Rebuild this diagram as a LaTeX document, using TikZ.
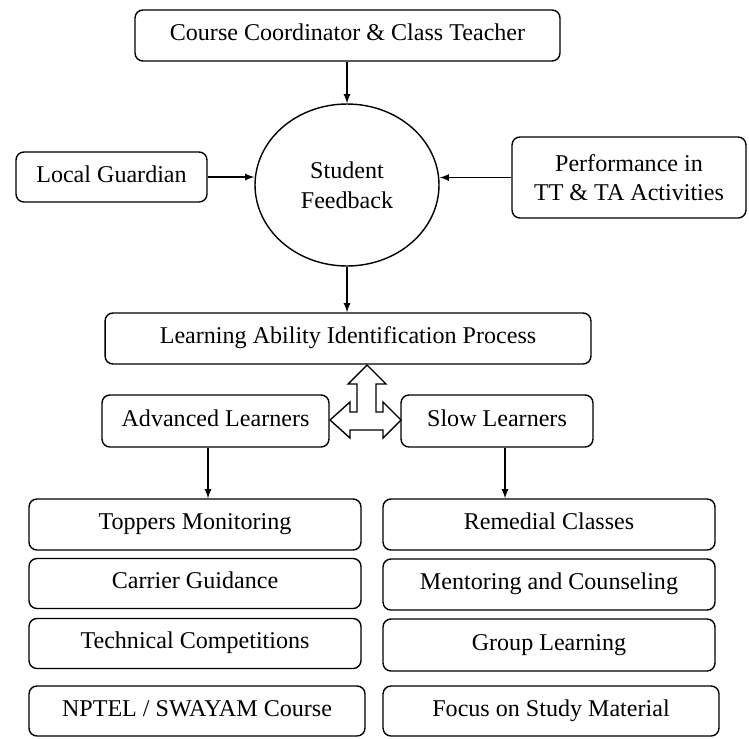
\documentclass[tikz,border=0pt]{standalone}
\usepackage{fontspec}
\setmainfont{Liberation Serif}
\usepackage{tikz}
\usetikzlibrary{shapes.geometric}

\begin{document}
\begin{tikzpicture}[x=0.02cm,y=-0.02cm,line width=0.8pt,
		box/.style={draw,rectangle,rounded corners=4.5pt,align=center,inner sep=0pt,font=\fontsize{13.7}{16.5}\selectfont},
		line/.style={box,text height=1.65ex,text depth=0.35ex},
		arr/.style={->,>=latex}]
		\useasboundingbox (0,0) rectangle (749,738);
		%\node[draw,options] (nodeName) at (x,y) {text};
		\node[line,minimum width=8.5cm,minimum height=1.02cm] (Coord) at (347.5,35.5) {Course Coordinator \& Class Teacher};
		\node[line,minimum width=3.82cm,minimum height=1cm] (Guardian) at (111.5,177) {Local Guardian};
		\node[draw,ellipse,minimum width=3.68cm,minimum height=3.24cm,align=center,inner sep=0pt,font=\fontsize{13.7}{17}\selectfont] (Feedback) at (347,185) {Student \\ Feedback};
		\node[box,minimum width=4.68cm,minimum height=1.62cm] (Perf) at (629,177.5) {Performance in \\ TT \& TA Activities};
		\node[line,minimum width=9.72cm,minimum height=1.02cm] (Learn) at (348,338.5) {Learning Ability Identification Process};
		\node[line,minimum width=4.54cm,minimum height=1.04cm] (Adv) at (215.5,421) {Advanced Learners};
		\node[line,minimum width=3.84cm,minimum height=1.04cm] (Slow) at (497,421) {Slow Learners};
		%advanced learners
		\node[line,minimum width=6.64cm,minimum height=1.02cm] (Toppers) at (195,524.5) {Toppers Monitoring};
		\node[line,minimum width=6.64cm,minimum height=1cm] (Carrier) at (195,583.5) {Carrier Guidance};
		\node[line,minimum width=6.64cm,minimum height=1cm] (Technical) at (195,643.5) {Technical Competitions};
		\node[line,minimum width=6.72cm,minimum height=1cm] (Nptel) at (197,711) {NPTEL / SWAYAM Course};
		%slow learners
		\node[line,minimum width=6.64cm,minimum height=1.02cm] (Remedial) at (549,524.5) {Remedial Classes};
		\node[line,minimum width=6.64cm,minimum height=1.02cm] (Mentoring) at (549,584.5) {Mentoring and Counseling};
		\node[line,minimum width=6.64cm,minimum height=1.04cm] (Group) at (549,645) {Group Learning};
		\node[line,minimum width=6.72cm,minimum height=1cm] (Focus) at (551,711) {Focus on Study Material};
		%arrows
		\draw[arr] (Feedback.north |- Coord.south) -- (Feedback.north);
		\draw[arr] (Guardian.east) -- (Guardian.east -| Feedback.west);
		\draw[arr] (Perf.west) -- (Perf.west -| Feedback.east);
		\draw[arr] (Feedback.south) -- (Feedback.south |- Learn.north);
		\draw[arr] ([xshift=-0.15cm]Adv.south) -- ([xshift=-0.15cm]Adv.south |- Toppers.north);
		\draw[arr] ([xshift=0.16cm]Slow.south) -- ([xshift=0.16cm]Slow.south |- Remedial.north);
		%three way block arrow
		\draw[line join=miter] (367,365) -- (386,384) -- (376,384) -- (376,412) -- (383,412) -- (383,402) -- (401,420) -- (383,438) -- (383,430) -- (350,430) -- (350,438) -- (330,420) -- (350,402) -- (350,412) -- (357,412) -- (357,384) -- (348,384) -- cycle;
	\end{tikzpicture}
\end{document}
